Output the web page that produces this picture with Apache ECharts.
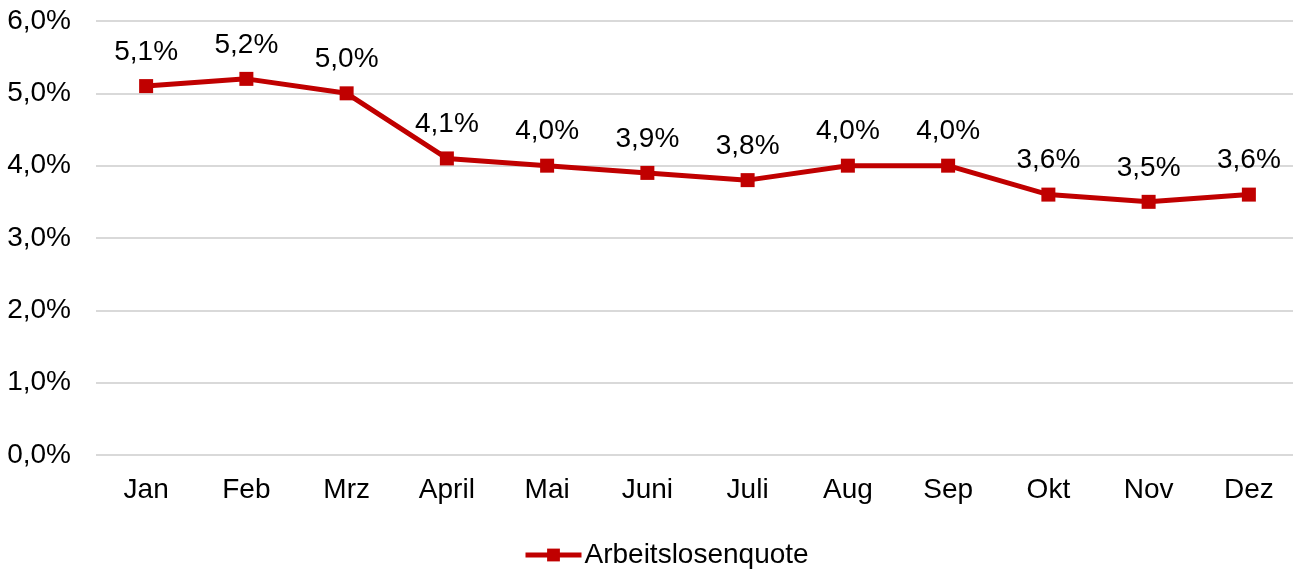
<!DOCTYPE html>
<html>
<head>
<meta charset="utf-8">
<script src="https://cdn.jsdelivr.net/npm/echarts@6/dist/echarts.min.js"></script>
<style>
  html, body { margin: 0; padding: 0; overflow: hidden; background: #fff; }
  #chart { width: 1299px; height: 569px; }
</style>
</head>
<body>
<div id="chart"></div>
<script>
const months = ['Jan', 'Feb', 'Mrz', 'April', 'Mai', 'Juni', 'Juli', 'Aug', 'Sep', 'Okt', 'Nov', 'Dez'];
const quote = [5.1, 5.2, 5.0, 4.1, 4.0, 3.9, 3.8, 4.0, 4.0, 3.6, 3.5, 3.6];

const fmt = (v) => v.toFixed(1).replace('.', ',') + '%';

const chart = echarts.init(document.getElementById('chart'));
chart.setOption({
  animation: false,
  textStyle: { fontFamily: 'Liberation Sans, Arial, sans-serif' },
  grid: { left: 96, right: 0, top: 21, bottom: 114 },
  legend: {
    top: 536,
    left: 518,
    itemWidth: 56,
    itemHeight: 16,
    itemGap: 4,
    lineStyle: { width: 5 },
    textStyle: { fontSize: 28, color: '#000', padding: [0, 0, 0, -2] },
    data: ['Arbeitslosenquote']
  },
  xAxis: {
    type: 'category',
    data: months,
    axisLine: { show: false },
    axisTick: { show: false },
    axisLabel: { fontSize: 28, color: '#000', margin: 21 }
  },
  yAxis: {
    type: 'value',
    min: 0,
    max: 6,
    interval: 1,
    axisLabel: { fontSize: 28, color: '#000', margin: 25, formatter: fmt },
    splitLine: { lineStyle: { color: '#d9d9d9', width: 2 } }
  },
  series: [
    {
      name: 'Arbeitslosenquote',
      type: 'line',
      data: quote,
      symbol: 'rect',
      symbolSize: 14,
      color: '#c00000',
      lineStyle: { width: 5, color: '#c00000' },
      itemStyle: { color: '#c00000' },
      label: {
        show: true,
        position: 'top',
        distance: 13,
        fontSize: 28,
        color: '#000',
        formatter: (p) => fmt(p.value)
      }
    }
  ]
});

window.onresize = function () {
  chart.resize();
};
</script>
</body>
</html>
